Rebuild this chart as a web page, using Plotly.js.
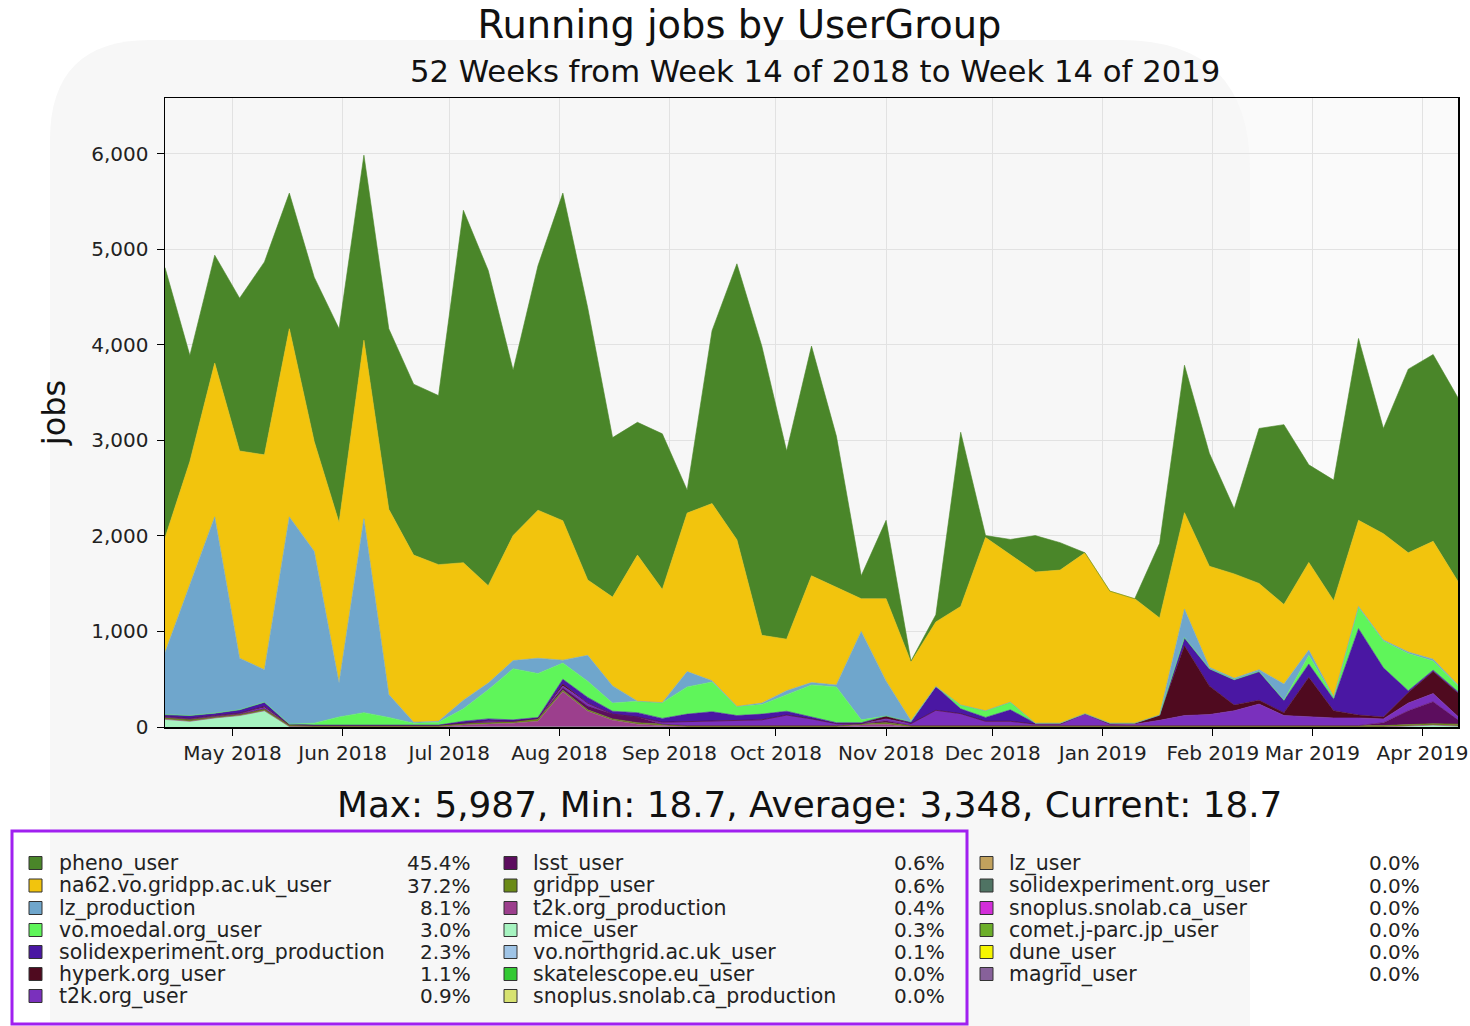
<!DOCTYPE html>
<html>
<head>
<meta charset="utf-8">
<script src="https://cdn.plot.ly/plotly-3.0.1.min.js"></script>
<style>
  html, body { margin: 0; padding: 0; background: #ffffff; }
  #chart { width: 1470px; height: 1026px; }
</style>
</head>
<body>
<div id="chart"></div>
<script>
// ---------------- DATA ----------------
const weeks = [
  '2018-04-12','2018-04-19','2018-04-26','2018-05-03','2018-05-10','2018-05-17','2018-05-24','2018-05-31',
  '2018-06-07','2018-06-14','2018-06-21','2018-06-28','2018-07-05','2018-07-12','2018-07-19','2018-07-26',
  '2018-08-02','2018-08-09','2018-08-16','2018-08-23','2018-08-30','2018-09-06','2018-09-13','2018-09-20',
  '2018-09-27','2018-10-04','2018-10-11','2018-10-18','2018-10-25','2018-11-01','2018-11-08','2018-11-15',
  '2018-11-22','2018-11-29','2018-12-06','2018-12-13','2018-12-20','2018-12-27','2019-01-03','2019-01-10',
  '2019-01-17','2019-01-24','2019-01-31','2019-02-07','2019-02-14','2019-02-21','2019-02-28','2019-03-07',
  '2019-03-14','2019-03-21','2019-03-28','2019-04-04','2019-04-11'
];

const pheno_user = [2830,1110,1130,1600,2020,1420,1720,2030,1937,1890,
  1790,1770,3690,3300,1730,2560,3430,2850,1670,1390,
  1630,240,1810,2890,3030,1970,2405,1583,240,821,
  10,75,1824,20,160,381,287,0,0,0,
  782,1544,1183,682,1623,1883,1022,1262,1904,1102,1923,1956,1924];

const na62_user = [1200,1280,1610,2170,2250,1970,1150,1680,1870,1940,
  1750,1640,1440,1020,1310,1550,1460,790,930,1530,
  1185,1660,1855,1745,710,540,1118,1023,343,863,
  616,675,1032,1814,1544,1583,1603,1684,1383,1303,
  1017,1009,1058,1093,903,833,918,1008,902,1114,1039,1234,1083];

const lz_production = [650,1380,2055,540,340,2170,1800,355,2030,240,
  10,10,90,70,85,160,30,270,180,0,
  0,160,15,0,15,40,25,20,925,365,
  10,0,0,0,0,0,0,0,0,0,
  0,300,15,15,20,170,55,5,12,10,15,20,10];

const moedal_user = [0,0,0,0,0,0,20,85,130,80,
  20,30,130,305,535,460,170,170,85,120,
  165,285,310,95,100,175,335,375,30,0,
  0,0,40,70,80,0,0,0,0,0,
  0,0,0,0,0,0,90,20,220,280,390,95,60];

const solid_production = [20,30,25,35,45,5,0,0,0,0,
  0,0,20,20,15,10,50,60,30,45,
  40,80,95,55,60,40,20,10,10,0,
  20,250,50,40,120,10,10,0,10,0,
  0,85,180,265,300,130,140,120,905,515,20,15,15];

const hyperk_user = [0,0,0,0,10,0,0,0,0,0,
  0,0,0,0,0,0,20,0,0,0,
  0,0,0,0,0,0,0,0,0,30,
  0,0,0,0,0,0,0,0,0,10,
  55,730,300,60,40,30,410,75,30,20,110,230,245];

const t2k_user = [10,10,10,10,15,0,0,0,0,0,
  0,0,0,15,0,0,20,30,0,0,
  20,40,50,50,60,110,70,20,0,20,
  20,160,125,45,45,15,15,125,15,15,
  55,105,115,155,225,105,95,80,80,40,80,85,35];

const lsst_user = [0,0,0,0,0,0,0,0,0,0,
  0,0,0,0,0,10,25,40,50,60,
  0,0,0,0,0,0,0,0,0,20,
  0,0,0,0,0,0,0,0,0,0,
  0,0,0,0,0,0,0,0,0,30,145,230,45];

const gridpp_user = [20,20,15,15,20,20,20,20,20,20,
  20,20,20,20,20,20,15,15,15,15,
  15,15,15,15,15,15,15,15,15,15,
  15,15,15,15,15,15,15,15,15,15,
  15,15,15,15,15,15,15,15,15,15,15,15,20];

const t2k_production = [0,0,0,0,0,0,0,0,0,0,
  0,0,20,30,40,60,370,165,70,30,
  15,0,0,0,0,0,0,0,20,30,
  0,0,0,0,0,0,0,0,0,0,
  0,0,0,0,0,0,0,0,0,0,0,0,0];

const mice_user = [80,60,95,120,170,5,0,0,0,0,
  0,0,0,0,0,0,0,0,0,0,
  0,0,0,0,0,0,0,0,0,0,
  0,0,0,0,0,0,0,0,0,0,
  0,0,0,0,0,0,0,0,0,0,10,20,10];

// legend table (name, colour, share)
const legendNames = [
  'pheno_user','na62.vo.gridpp.ac.uk_user','lz_production','vo.moedal.org_user',
  'solidexperiment.org_production','hyperk.org_user','t2k.org_user',
  'lsst_user','gridpp_user','t2k.org_production','mice_user',
  'vo.northgrid.ac.uk_user','skatelescope.eu_user','snoplus.snolab.ca_production',
  'lz_user','solidexperiment.org_user','snoplus.snolab.ca_user','comet.j-parc.jp_user',
  'dune_user','magrid_user'
];
const legendColors = [
  '#4a8629','#f2c40d','#6fa6cc','#5ff55a',
  '#4a17a3','#4f0a1f','#7a30bd',
  '#5c0d5e','#6a8a16','#9c3f8d','#a6f3c0',
  '#9fc4e6','#33c933','#d7e271',
  '#c2a25d','#4f7363','#d22ed9','#6caf2a',
  '#f5f500','#87619a'
];
const legendShares = [
  '45.4%','37.2%','8.1%','3.0%','2.3%','1.1%','0.9%',
  '0.6%','0.6%','0.4%','0.3%','0.1%','0.0%','0.0%',
  '0.0%','0.0%','0.0%','0.0%','0.0%','0.0%'
];

// month ticks
const monthTicks = ['2018-05-01','2018-06-01','2018-07-01','2018-08-01','2018-09-01','2018-10-01',
  '2018-11-01','2018-12-01','2019-01-01','2019-02-01','2019-03-01','2019-04-01'];
const monthLabels = ['May 2018','Jun 2018','Jul 2018','Aug 2018','Sep 2018','Oct 2018',
  'Nov 2018','Dec 2018','Jan 2019','Feb 2019','Mar 2019','Apr 2019'];
const yTicks = [0,1000,2000,3000,4000,5000,6000];

const titleText = 'Running jobs by UserGroup';
const subtitleText = '52 Weeks from Week 14 of 2018 to Week 14 of 2019';
const statsText = 'Max: 5,987, Min: 18.7, Average: 3,348, Current: 18.7';

// ---------------- TRACES (bottom -> top) ----------------
const stackOrder = [
  ['mice_user', mice_user],
  ['t2k.org_production', t2k_production],
  ['gridpp_user', gridpp_user],
  ['lsst_user', lsst_user],
  ['t2k.org_user', t2k_user],
  ['hyperk.org_user', hyperk_user],
  ['solidexperiment.org_production', solid_production],
  ['vo.moedal.org_user', moedal_user],
  ['lz_production', lz_production],
  ['na62.vo.gridpp.ac.uk_user', na62_user],
  ['pheno_user', pheno_user]
];
const colorOf = n => legendColors[legendNames.indexOf(n)];
const traces = stackOrder.map(([name, vals]) => ({
  type: 'scatter', mode: 'lines', name: name,
  x: weeks, y: vals, stackgroup: 'jobs',
  line: {width: 0.6, color: colorOf(name), shape: 'linear'},
  fillcolor: colorOf(name),
  hoverinfo: 'x+y+name', showlegend: false
}));

// ---------------- LAYOUT ----------------
const W = 1470, H = 1026;
const L = 165, R = 1458, T = 98, B = 727;
const fx = px => (px - L) / (R - L);
const fy = py => (B - py) / (B - T);
const FONT = 'DejaVu Sans, Verdana, sans-serif';

const shapes = [
  // faint watermark block
  {type: 'path', xref: 'paper', yref: 'paper', layer: 'below',
   path: `M ${fx(50)},${fy(140)} Q ${fx(50)},${fy(40)} ${fx(150)},${fy(40)} L ${fx(1120)},${fy(40)} Q ${fx(1250)},${fy(40)} ${fx(1250)},${fy(170)} L ${fx(1250)},${fy(1026)} L ${fx(50)},${fy(1026)} Z`,
   fillcolor: '#f7f7f7', line: {width: 0}},
  // highlight box round legend
  {type: 'rect', xref: 'paper', yref: 'paper',
   x0: fx(12), x1: fx(967), y0: fy(831), y1: fy(1024),
   line: {color: '#a020f0', width: 3}, fillcolor: 'rgba(0,0,0,0)'}
];
const annotations = [
  {xref: 'paper', yref: 'paper', x: fx(815), y: fy(71), text: subtitleText, showarrow: false,
   xanchor: 'center', yanchor: 'middle', font: {family: FONT, size: 30.7, color: '#111'}},
  {xref: 'paper', yref: 'paper', x: fx(809), y: fy(804), text: statsText, showarrow: false,
   xanchor: 'center', yanchor: 'middle', font: {family: FONT, size: 35.8, color: '#111'}}
];

const colX = [{sw: 29, tx: 57, pr: 473}, {sw: 504, tx: 531, pr: 947}, {sw: 980, tx: 1007, pr: 1422}];
const rowY = [863, 885.5, 908, 930, 952, 974, 996];
legendNames.forEach((name, i) => {
  const col = i < 7 ? 0 : (i < 14 ? 1 : 2);
  const row = i < 14 ? i % 7 : i - 14;
  const c = colX[col], y = rowY[row];
  shapes.push({type: 'rect', xref: 'paper', yref: 'paper',
    x0: fx(c.sw), x1: fx(c.sw + 13), y0: fy(y - 6.5), y1: fy(y + 6.5),
    fillcolor: legendColors[i], line: {color: '#333', width: 1}});
  annotations.push({xref: 'paper', yref: 'paper', x: fx(c.tx), y: fy(y), text: name,
    showarrow: false, xanchor: 'left', yanchor: 'middle',
    font: {family: FONT, size: 20.5, color: '#222'}});
  annotations.push({xref: 'paper', yref: 'paper', x: fx(c.pr), y: fy(y), text: legendShares[i],
    showarrow: false, xanchor: 'right', yanchor: 'middle',
    font: {family: FONT, size: 20, color: '#222'}});
});

const layout = {
  width: W, height: H,
  margin: {l: L, r: W - R, t: T, b: H - B, pad: 0},
  paper_bgcolor: '#ffffff',
  plot_bgcolor: '#fafafa',
  showlegend: false,
  font: {family: FONT, color: '#222'},
  title: {text: titleText, x: 0.503, xanchor: 'center', y: 1 - 25 / H, yanchor: 'middle',
          font: {family: FONT, size: 38.4, color: '#111'}},
  xaxis: {
    type: 'date', range: [weeks[0], weeks[weeks.length - 1]],
    tickvals: monthTicks, ticktext: monthLabels,
    ticks: 'outside', ticklen: 7, tickcolor: '#000', tickwidth: 1,
    showline: true, linecolor: '#000', linewidth: 1.5, mirror: true,
    showgrid: true, gridcolor: '#e2e2e2', gridwidth: 1,
    tickfont: {family: FONT, size: 20, color: '#222'}, zeroline: false
  },
  yaxis: {
    range: [0, 6586], tickvals: yTicks, tickformat: ',d',
    ticks: 'outside', ticklen: 7, tickcolor: '#000', tickwidth: 1,
    ticklabelstandoff: 4,
    showline: true, linecolor: '#000', linewidth: 1.5, mirror: true,
    showgrid: true, gridcolor: '#e2e2e2', gridwidth: 1, zeroline: false,
    tickfont: {family: FONT, size: 20, color: '#222'},
    title: {text: 'jobs', font: {family: FONT, size: 32, color: '#111'}, standoff: 16}
  },
  shapes: shapes,
  annotations: annotations
};

Plotly.newPlot('chart', traces, layout, {displayModeBar: false, staticPlot: true});
</script>
</body>
</html>
